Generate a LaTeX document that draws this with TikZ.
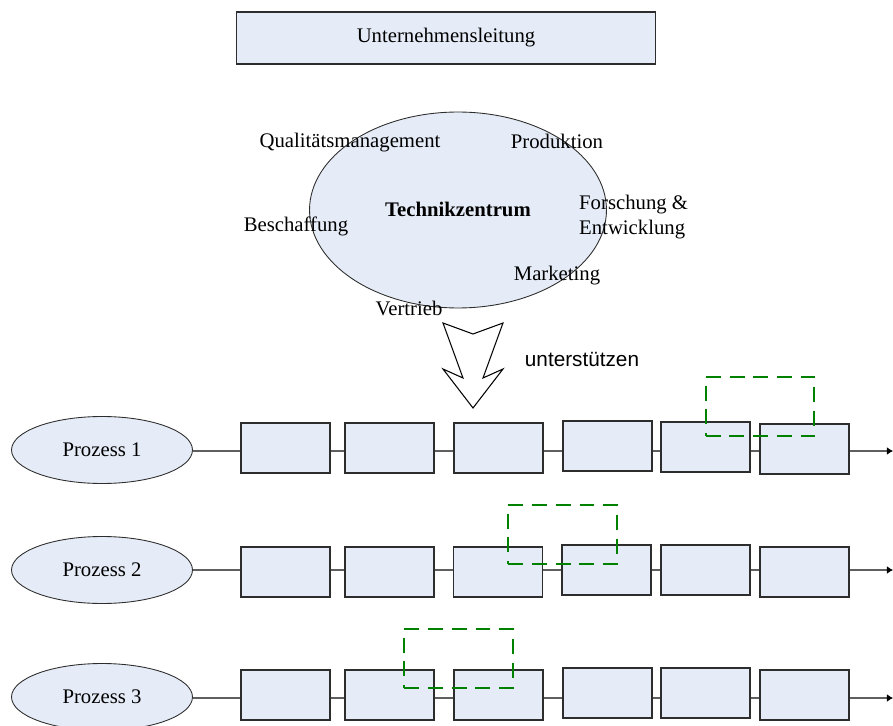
\documentclass[tikz,border=0pt]{standalone}
\usepackage{fontspec}
\setmainfont{Liberation Serif}
\newfontfamily\labelsans{Liberation Sans}
\usetikzlibrary{shapes.geometric,arrows.meta,backgrounds}
\definecolor{boxfill}{RGB}{230,236,247}
\definecolor{boxline}{RGB}{45,45,45}
\definecolor{linkgray}{RGB}{95,95,95}
\definecolor{markgreen}{RGB}{0,130,0}

\begin{document}
\begin{tikzpicture}[x=0.02cm,y=-0.02cm,%
every node/.style = {font=\fontsize{11.8}{14}\selectfont},
% common options for the process stages:
stage/.style = {draw=boxline, fill=boxfill, line width=0.6pt,
            minimum width=1.78cm, minimum height=1.0cm, inner sep=0},
% common options for the ellipses:
oval/.style = {ellipse, draw=boxline, fill=boxfill, line width=0.5pt, inner sep=0},
% dashed frames over the stages:
frame/.style = {draw=markgreen, dash pattern=on 8.5pt off 5pt, line width=1.1pt,
            minimum width=2.17cm, minimum height=1.18cm, inner sep=0},
link/.style = {draw=linkgray, line width=0.6pt,
            -{Latex[length=3.5pt,width=4.5pt,color=black]}}]
\useasboundingbox (0,0) rectangle (893,726);

\node[stage,minimum width=8.4cm,minimum height=1.04cm] (U0) at (446,38) {Unternehmensleitung};

\node[oval,minimum width=5.94cm,minimum height=3.92cm] (TZ) at (458,210) {};
\node[font=\fontsize{11.8}{14}\selectfont\bfseries] (TZ0) at (458,209) {Technikzentrum};
\node (T1) at (350,143) {Qualitätsmanagement};
\node (T2) at (557,141) {Produktion};
\node[align=left,anchor=west] (T3) at (573,217) {Forschung \&\\Entwicklung};
\node (T4) at (296,226) {Beschaffung};
\node (T5) at (557,276) {Marketing};
\node (T6) at (409,308) {Vertrieb};

% block arrow
\draw[line width=0.6pt] (443,323) -- (473,334) -- (503,323) -- (483,378) -- (503,369)
    -- (473,408) -- (443,369) -- (463,378) -- cycle;
\node[font=\labelsans\fontsize{11.8}{14}\selectfont] (S0) at (582,359) {unterstützen};

\node[oval,minimum width=3.62cm,minimum height=1.34cm] (P1) at (102,450) {Prozess 1};
\node[oval,minimum width=3.62cm,minimum height=1.34cm] (P2) at (102,570) {Prozess 2};
\node[oval,minimum width=3.62cm,minimum height=1.34cm] (P3) at (102,697) {Prozess 3};
\coordinate (E1) at (893,451);
\coordinate (E2) at (893,570);
\coordinate (E3) at (893,698);

\node[stage] (B11) at (285.5,448) {};
\node[stage] (B12) at (389.5,448) {};
\node[stage] (B13) at (498.5,448) {};
\node[stage] (B14) at (607.5,446) {};
\node[stage] (B15) at (705.5,447) {};
\node[stage] (B16) at (804.5,449) {};

\node[stage] (B21) at (285.5,572) {};
\node[stage] (B22) at (389.5,572) {};
\node[stage] (B23) at (498,572) {};
\node[stage] (B24) at (606.5,570) {};
\node[stage] (B25) at (705.5,570) {};
\node[stage] (B26) at (804.5,572) {};

\node[stage] (B31) at (285.5,695) {};
\node[stage] (B32) at (389.5,695) {};
\node[stage] (B33) at (498.5,695) {};
\node[stage] (B34) at (607.5,693) {};
\node[stage] (B35) at (705.5,693) {};
\node[stage] (B36) at (804.5,695) {};

\begin{pgfonlayer}{background}
\draw[link] (P1.east |- E1) to (E1);
\draw[link] (P2.east) to (E2);
\draw[link] (P3.east |- E3) to (E3);
\end{pgfonlayer}

\node[frame] (H1) at (760,406.5) {};
\node[frame] (H2) at (562.5,534.5) {};
\node[frame] (H3) at (458.5,658.5) {};
\end{tikzpicture}
\end{document}
